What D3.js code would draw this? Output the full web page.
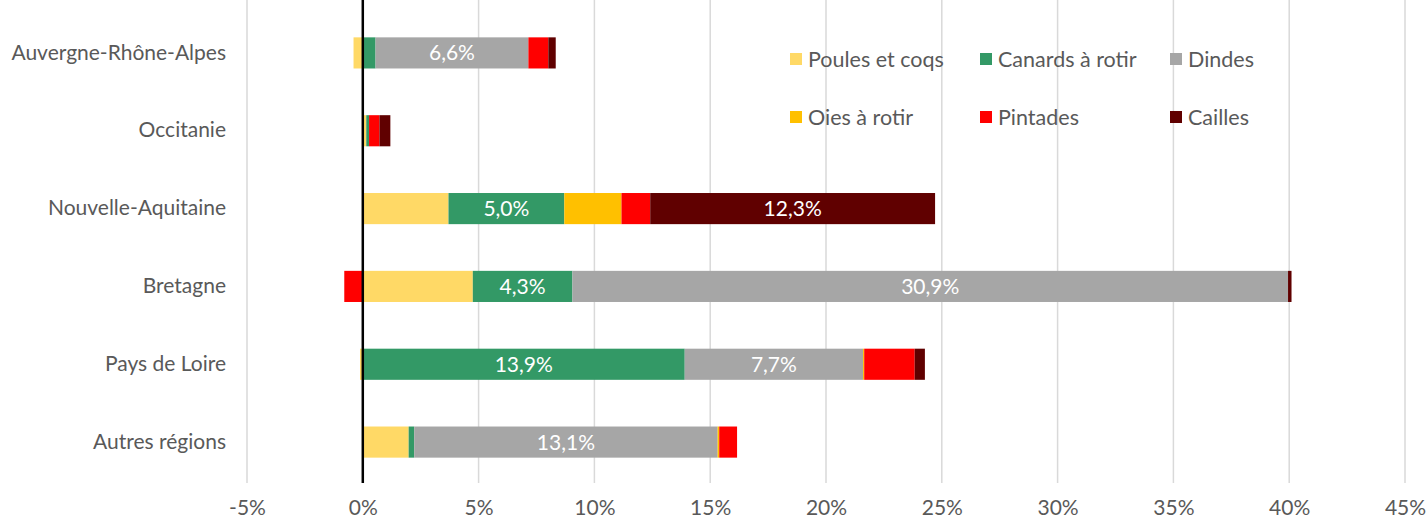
<!DOCTYPE html>
<html><head><meta charset="utf-8">
<script src="https://cdn.jsdelivr.net/npm/d3@7"></script>
<style>body{margin:0;background:#fff}svg{display:block}text{font-family:Lato,"Open Sans",sans-serif}</style>
</head><body><svg id="c" width="1428" height="521"></svg>
<script>
const categories = ["Auvergne-Rhône-Alpes","Occitanie","Nouvelle-Aquitaine","Bretagne","Pays de Loire","Autres régions"];
const seriesNames = ["Poules et coqs","Canards à rotir","Dindes","Oies à rotir","Pintades","Cailles"];
const poules   = [-0.4, 0.15, 3.7, 4.75, -0.12, 1.98];
const canards  = [0.55, 0.12, 5.0, 4.3, 13.9, 0.24];
const dindes   = [6.6, 0, 0, 30.9, 7.7, 13.1];
const oies     = [0, 0, 2.47, 0, 0.05, 0.07];
const pintades = [0.86, 0.45, 1.24, -0.8, 2.18, 0.77];
const cailles  = [0.32, 0.47, 12.3, 0.15, 0.44, 0];
const xTicks = [-5,0,5,10,15,20,25,30,35,40,45];
const colors = ["#FFD966","#339966","#A6A6A6","#FFC000","#FF0000","#600000"];
const labelled = ["Canards à rotir","Dindes","Cailles"];

const seriesVals = [poules, canards, dindes, oies, pintades, cailles];
const rows = categories.map((c,i)=>{const o={cat:c}; seriesNames.forEach((s,j)=>o[s]=seriesVals[j][i]); return o;});
const stack = d3.stack().keys(seriesNames).offset(d3.stackOffsetDiverging)(rows);

const svg = d3.select("#c");
const x = d3.scaleLinear().domain([-5,45]).range([247,1405]);
const y = d3.scaleBand().domain(categories).range([14,481]).paddingInner(0.6).paddingOuter(0.3);

// grid
svg.append("g").selectAll("line").data(xTicks.filter(t=>t!==0)).join("line")
  .attr("x1",d=>x(d)).attr("x2",d=>x(d)).attr("y1",0).attr("y2",483)
  .attr("stroke","#d9d9d9").attr("stroke-width",1.5);

// bars
const g = svg.append("g");
stack.forEach((s,j)=>{
  g.append("g").attr("fill",colors[j]).selectAll("rect").data(s).join("rect")
    .attr("x",d=>x(Math.min(d[0],d[1])))
    .attr("width",d=>Math.abs(x(d[1])-x(d[0])))
    .attr("y",d=>y(d.data.cat)).attr("height",y.bandwidth());
  if(labelled.includes(s.key)){
    g.append("g").selectAll("text").data(s.filter(d=>Math.abs(d[1]-d[0])>4)).join("text")
      .attr("x",d=>x((d[0]+d[1])/2)).attr("y",d=>y(d.data.cat)+y.bandwidth()/2)
      .attr("dy","0.36em").attr("text-anchor","middle").attr("fill","#fff")
      .attr("font-size",21)
      .text(d=>d3.format(".1f")(d[1]-d[0]).replace(".",",")+"%");
  }
});

// zero line
svg.append("line").attr("x1",x(0)).attr("x2",x(0)).attr("y1",0).attr("y2",483)
  .attr("stroke","#000").attr("stroke-width",2.5);

// x axis labels
const xa = svg.append("g").attr("transform","translate(0,483)")
  .call(d3.axisBottom(x).tickValues(xTicks).tickSize(0).tickPadding(17).tickFormat(d=>d+"%"));
xa.select(".domain").remove();
xa.selectAll("text").attr("font-size",21).attr("fill","#595959").attr("font-family","Lato,'Open Sans',sans-serif");

// y labels
const ya = svg.append("g").attr("transform","translate(226,0)")
  .call(d3.axisLeft(y).tickSize(0).tickPadding(0));
ya.select(".domain").remove();
ya.selectAll("text").attr("font-size",21).attr("fill","#595959").attr("font-family","Lato,'Open Sans',sans-serif");

// legend
const legX = [790,980,1170], legY = [59,117];
const lg = svg.append("g");
seriesNames.forEach((s,j)=>{
  const cx = legX[j%3], cy = legY[Math.floor(j/3)];
  lg.append("rect").attr("x",cx).attr("y",cy-6).attr("width",12).attr("height",12).attr("fill",colors[j]);
  lg.append("text").attr("x",cx+18).attr("y",cy).attr("dy","0.36em").attr("font-size",21.5).attr("fill","#595959").text(s);
});
</script></body></html>
